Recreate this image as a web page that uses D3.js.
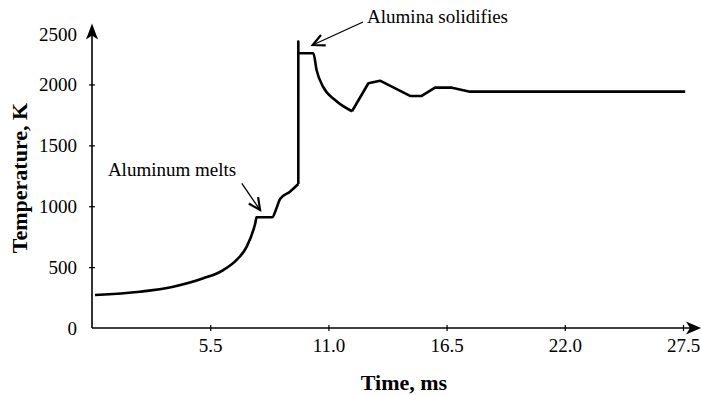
<!DOCTYPE html>
<html>
<head>
<meta charset="utf-8">
<script src="https://cdn.jsdelivr.net/npm/d3@7"></script>
<style>
  body { margin: 0; background: #fff; }
  svg { display: block; font-family: "Liberation Serif", "Times New Roman", serif; }
</style>
</head>
<body>
<div id="chart"></div>
<script>
// temperature history
const timeMs = [0.14, 2.23, 3.78, 5.18, 6.11, 6.73, 7.20, 7.51, 7.61, 7.65, 8.38, 8.59, 8.75, 9.21, 9.60,
    9.60, 9.60, 10.30, 10.45, 10.75, 11.31, 12.10, 12.86, 13.40, 14.80, 15.34, 15.96, 16.75, 17.59, 27.6];
const tempK = [271, 298, 339, 408, 476, 559, 668, 805, 871, 909, 909, 986, 1060, 1120, 1183,
    2352, 2256, 2256, 2119, 1982, 1873, 1780, 2010, 2031, 1906, 1906, 1974, 1974, 1941, 1941];

const xTicks = [5.5, 11.0, 16.5, 22.0, 27.5];
const yTicks = [0, 500, 1000, 1500, 2000];
const yTop = 2500;

const notes = [
    { text: 'Aluminum melts', tx: 0.74, tT: 1248, from: [6.97, 1188], to: [7.82, 969] },
    { text: 'Alumina solidifies', tx: 12.8, tT: 2505, from: [12.61, 2513], to: [10.27, 2324] }
];

const width = 701, height = 395;

const svg = d3.select('#chart')
    .append('svg')
    .attr('width', width)
    .attr('height', height);

const x = d3.scaleLinear().domain([0, 27.5]).range([92, 683]);
const y = d3.scaleLinear().domain([0, yTop]).range([328, 23.6]);

// x axis
const xAxis = svg.append('g')
    .attr('transform', `translate(0,${y(0)})`)
    .call(d3.axisBottom(x).tickValues(xTicks).tickFormat(d3.format('.1f')).tickSize(3).tickPadding(8));
xAxis.select('.domain').remove();
xAxis.selectAll('.tick line').attr('y1', -3).attr('y2', 3).attr('stroke-width', 1.2);
xAxis.selectAll('.tick text').attr('font-size', 19).attr('font-family', '"Liberation Serif", serif').attr('fill', '#000');

svg.append('line')
    .attr('x1', x(0)).attr('x2', 697)
    .attr('y1', y(0)).attr('y2', y(0))
    .attr('stroke', '#000').attr('stroke-width', 1.6);
svg.append('path')
    .attr('d', `M701,${y(0)} L686,${y(0) - 6.5} L690,${y(0)} L686,${y(0) + 6.5} Z`)
    .attr('fill', '#000');

// y axis
const yAxis = svg.append('g')
    .attr('transform', `translate(${x(0)},0)`)
    .call(d3.axisLeft(y).tickValues(yTicks).tickFormat(d3.format('d')).tickSize(3).tickPadding(12));
yAxis.select('.domain').remove();
yAxis.selectAll('.tick line').attr('x1', -3).attr('x2', 3).attr('stroke-width', 1.2);
yAxis.selectAll('.tick text').attr('font-size', 19).attr('font-family', '"Liberation Serif", serif').attr('fill', '#000');
yAxis.selectAll('.tick')
    .filter(d => d === 0)
    .select('line').remove();

svg.append('line')
    .attr('x1', x(0)).attr('x2', x(0))
    .attr('y1', y(0)).attr('y2', y(yTop) + 4)
    .attr('stroke', '#000').attr('stroke-width', 1.6);
svg.append('path')
    .attr('d', `M${x(0)},${y(yTop)} L${x(0) - 6},${y(yTop) + 16} L${x(0)},${y(yTop) + 12} L${x(0) + 6},${y(yTop) + 16} Z`)
    .attr('fill', '#000');
svg.append('text')
    .attr('x', x(0) - 15)
    .attr('y', y(yTop) + 11)
    .attr('dy', '0.32em')
    .attr('text-anchor', 'end')
    .attr('font-size', 19)
    .text(yTop);

// axis titles
svg.append('text')
    .attr('x', 404).attr('y', 390)
    .attr('text-anchor', 'middle')
    .attr('font-size', 22).attr('font-weight', 'bold')
    .text('Time, ms');
svg.append('text')
    .attr('transform', 'translate(27,178) rotate(-90)')
    .attr('text-anchor', 'middle')
    .attr('font-size', 22).attr('font-weight', 'bold')
    .text('Temperature, K');

// curve: heating and cooling parts are smooth, the jump and the late oscillation are straight
const pts = timeMs.map((t, i) => [t, tempK[i]]);
const pieces = [
    { from: 0, to: 14, curve: d3.curveMonotoneX },
    { from: 14, to: 16, curve: d3.curveLinear },
    { from: 16, to: 21, curve: d3.curveMonotoneX },
    { from: 21, to: pts.length - 1, curve: d3.curveLinear }
];

svg.append('path')
    .attr('d', pieces.map(p =>
        d3.line().x(d => x(d[0])).y(d => y(d[1])).curve(p.curve)(pts.slice(p.from, p.to + 1))
    ).join(' '))
    .attr('fill', 'none')
    .attr('stroke', '#000')
    .attr('stroke-width', 2.6)
    .attr('stroke-linejoin', 'round');

// annotations
notes.forEach(n => {
    svg.append('text')
        .attr('x', x(n.tx)).attr('y', y(n.tT))
        .attr('font-size', 19)
        .text(n.text);
    const x1 = x(n.from[0]), y1 = y(n.from[1]);
    const x2 = x(n.to[0]), y2 = y(n.to[1]);
    svg.append('line')
        .attr('x1', x1).attr('y1', y1).attr('x2', x2).attr('y2', y2)
        .attr('stroke', '#000').attr('stroke-width', 1.3);
    const a = Math.atan2(y1 - y2, x1 - x2);
    const len = 13, spread = 0.45;
    svg.append('path')
        .attr('d', `M${x2 + len * Math.cos(a + spread)},${y2 + len * Math.sin(a + spread)} L${x2},${y2} L${x2 + len * Math.cos(a - spread)},${y2 + len * Math.sin(a - spread)}`)
        .attr('fill', 'none')
        .attr('stroke', '#000')
        .attr('stroke-width', 2.2);
});
</script>
</body>
</html>
